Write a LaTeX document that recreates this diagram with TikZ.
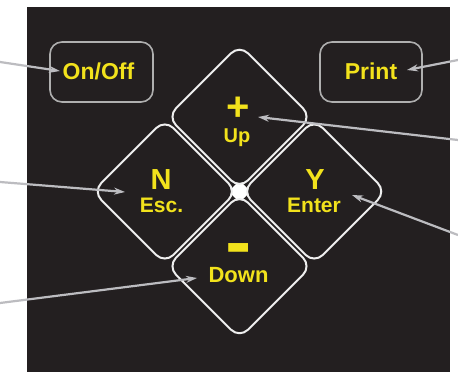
\documentclass[tikz,border=0pt]{standalone}
\usepackage{fontspec}
\usepackage{graphicx}
\setmainfont{Liberation Sans}
\usetikzlibrary{arrows.meta}
\definecolor{panel}{RGB}{35,31,32}
\definecolor{keyyellow}{RGB}{242,226,28}
\definecolor{boxgray}{RGB}{175,175,175}
\definecolor{diawhite}{RGB}{238,238,238}
\definecolor{arrgray}{RGB}{188,188,192}
\begin{document}
\begin{tikzpicture}[x=1pt,y=-1pt,
  lbl/.style={text=keyyellow, inner sep=0pt, anchor=base},
  fbig/.style={font={\fontsize{23}{27}\selectfont\bfseries}},
  fmid/.style={font={\fontsize{21}{25}\selectfont\bfseries}},
  fhuge/.style={font={\fontsize{29}{33}\selectfont\bfseries}},
  keybox/.style={draw=boxgray, line width=1.6pt, rounded corners=12pt, fill=panel, inner sep=0pt},
  keydia/.style={draw=diawhite, line width=2pt, rounded corners=12pt, fill=panel},
  arr/.style={draw=arrgray, line width=2.2pt, -{Stealth[length=11pt,width=7pt]}}]
\useasboundingbox (0,0) rectangle (458,382);
\fill[white] (0,0) rectangle (458,382);
\fill[panel] (27,7) rectangle (450,372);
% rectangular keys
\node[keybox, minimum width=103pt, minimum height=60pt] (onoffbox) at (101.5,72) {};
\node[keybox, minimum width=102pt, minimum height=60pt] (printbox) at (371,72) {};
% diamond keys
\def\cx{239.5}\def\cy{191.5}\def\hd{72}\def\dd{74.7}
\fill[white] (\cx,\cy-11) -- (\cx+11,\cy) -- (\cx,\cy+11) -- (\cx-11,\cy) -- cycle;
\foreach \ox/\oy in {0/-1,-1/0,1/0,0/1}{
  \draw[keydia] ({\cx+\ox*\dd},{\cy+\oy*\dd-\hd}) -- ({\cx+\ox*\dd+\hd},{\cy+\oy*\dd})
     -- ({\cx+\ox*\dd},{\cy+\oy*\dd+\hd}) -- ({\cx+\ox*\dd-\hd},{\cy+\oy*\dd}) -- cycle;
}
% labels
\node[lbl, fbig] (onoff) at (98.5,80) {On/Off};
\node[lbl, fbig] (print) at (371,80) {Print};
\node[lbl, font={\fontsize{40}{40}\selectfont\bfseries}] (plus) at (238,121) {+};
\node[lbl, font={\fontsize{20}{24}\selectfont\bfseries}] (up) at (237,143) {Up};
\node[lbl, fhuge] (nkey) at (161,190) {N};
\node[lbl, fmid] (esc) at (161.5,213) {Esc.};
\node[lbl, fhuge] (ykey) at (315,190) {Y};
\node[lbl, fmid] (enter) at (314,213) {Enter};
\node[lbl, font={\fontsize{40}{40}\selectfont\bfseries}] (minus) at (239,272) {\smash{\scalebox{1}[2.2]{–}}};
\node[lbl, font={\fontsize{22}{26}\selectfont\bfseries}] (down) at (238.5,283) {Down};
% connector ends
\coordinate (eOn) at (0,62);
\coordinate (ePrint) at (458,60);
\coordinate (eUp) at (458,140);
\coordinate (eY) at (458,235);
\coordinate (eN) at (0,182);
\coordinate (eDown) at (0,303);
\coordinate (tUp) at (258,117);
\coordinate (tY) at (352,195);
\coordinate (tN) at (125,192);
\coordinate (tDown) at (197,278);
\coordinate (tPrint) at (407,70);
\coordinate (tOn) at (60,71);
\draw[arr] (eOn) -- (tOn);
\draw[arr] (ePrint) -- (tPrint);
\draw[arr] (eUp) -- (tUp);
\draw[arr] (eY) -- (tY);
\draw[arr] (eN) -- (tN);
\draw[arr] (eDown) -- (tDown);
\end{tikzpicture}
\end{document}
